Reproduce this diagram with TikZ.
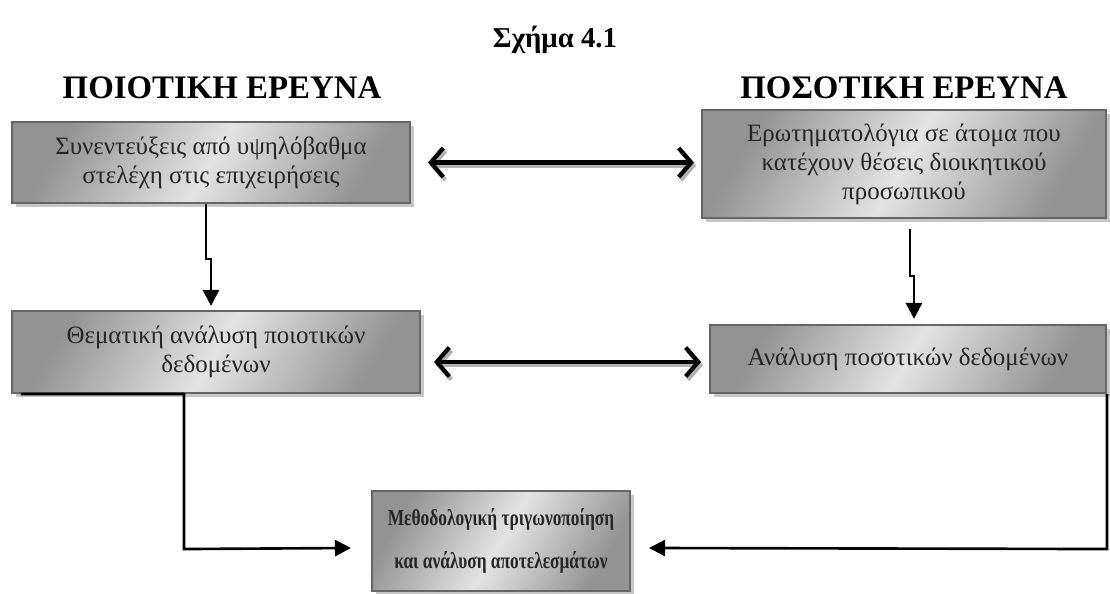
\documentclass[tikz,border=0pt]{standalone}
\usepackage{fontspec}
\setmainfont{Liberation Serif}
\newfontfamily\condensada[FakeStretch=0.76]{Liberation Serif}
\usetikzlibrary{arrows.meta,calc,shadows,positioning}

\begin{document}
\begin{tikzpicture}[x=0.02cm,y=-0.02cm,
  caja/.style={draw=gray!80!black, line width=1.2pt, left color=gray!85,
    right color=gray!85, middle color=gray!22, shading angle=60,
    drop shadow={shadow xshift=2.5pt, shadow yshift=-2.5pt, fill=gray!45, opacity=1},
    align=center, text=black!85, inner sep=0pt,
    font=\fontsize{14.2}{16.5}\selectfont},
  flecha/.style={line width=1.5pt, -{Triangle[length=3.2mm,width=3.2mm]}},
  doble/.style={line width=2.4pt,
    {Straight Barb[length=2.5mm,width=5.8mm]}-{Straight Barb[length=2.5mm,width=5.8mm]}},
  sombra/.style={doble, gray!60, transform canvas={xshift=1.2pt,yshift=-1.8pt}},
  titulo/.style={font=\bfseries\fontsize{18.7}{22}\selectfont}]
  \useasboundingbox (0,0) rectangle (1110,594);

  % Titulos
  \node[font=\bfseries\fontsize{16.4}{19}\selectfont] (fig) at (555,40) {Σχήμα 4.1};
  \node[titulo] (poi) at (222,88) {ΠΟΙΟΤΙΚΗ ΕΡΕΥΝΑ};
  \node[titulo] (pos) at (904,88) {ΠΟΣΟΤΙΚΗ ΕΡΕΥΝΑ};

  % Cajas
  \node[caja, minimum width=7.96cm, minimum height=1.62cm] (syn) at (211,162.5)
    {Συνεντεύξεις από υψηλόβαθμα\\στελέχη στις επιχειρήσεις};
  \node[caja, minimum width=8.08cm, minimum height=2.16cm] (ero) at (904,164)
    {Ερωτηματολόγια σε άτομα που\\κατέχουν θέσεις διοικητικού\\προσωπικού};
  \node[caja, minimum width=8.16cm, minimum height=1.64cm] (the) at (216,352)
    {Θεματική ανάλυση ποιοτικών\\δεδομένων};
  \node[caja, minimum width=7.92cm, minimum height=1.36cm] (ana) at (908,359)
    {Ανάλυση ποσοτικών δεδομένων};
  \node[caja, minimum width=5.16cm, minimum height=2cm,
    font=\condensada\bfseries\fontsize{13}{24}\selectfont] (mes) at (501,541)
    {Μεθοδολογική τριγωνοποίηση\\και ανάλυση αποτελεσμάτων};

  % Flechas verticales
  \draw[flecha] ($(syn.south)+(-5,0)$) -- ++(0,55) -- ++(5,0)
    -- ($(syn.south |- the.north)+(0,-4)$);
  \draw[flecha] ($(ero.south)+(6,10)$) -- ++(0,47) -- ++(4,0)
    -- ($(ero.south |- ana.north)+(10,-5)$);

  % Flechas dobles
  \draw[sombra] ($(syn.east)+(17,0)$) -- ($(syn.east -| ero.west)+(-7,0)$);
  \draw[doble] ($(syn.east)+(17,0)$) -- ($(syn.east -| ero.west)+(-7,0)$);
  \draw[sombra] ($(the.east)+(13,10)$) -- ($(the.east -| ana.west)+(-8,10)$);
  \draw[doble] ($(the.east)+(13,10)$) -- ($(the.east -| ana.west)+(-8,10)$);

  % Hacia la caja final
  \draw[flecha] ($(the.south west)+(10,0)$) -- ($(the.south west)+(173,0)$)
    -- ++(0,155) -- ($(mes.west)+(-20,7)$);
  \draw[flecha] (ana.south east) -- ++(0,155) -- ($(mes.east)+(18,7)$);
\end{tikzpicture}
\end{document}
